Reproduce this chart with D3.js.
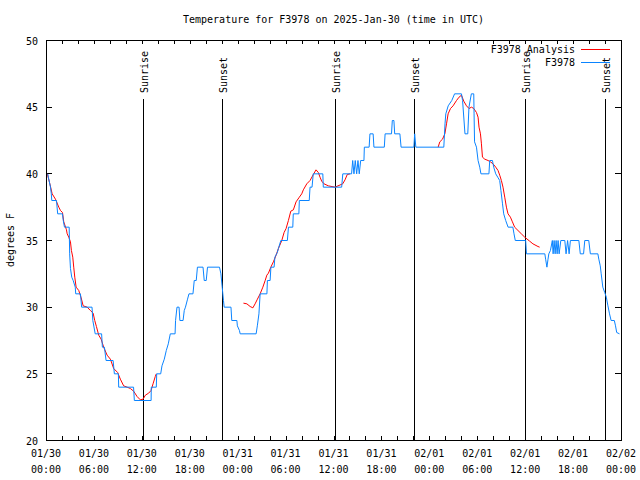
<!DOCTYPE html>
<html><head><meta charset="utf-8">
<script src="https://cdn.jsdelivr.net/npm/d3@7"></script>
<style>
html,body{margin:0;padding:0;background:#fff;}
svg text{font-family:"DejaVu Sans Mono","Liberation Mono",monospace;font-size:10px;fill:#000;}
</style></head>
<body>
<svg id="chart" width="640" height="480"></svg>
<script>
// ---- data (hours since 2025-01-30 00:00 UTC, degrees F) ----
const titleText = "Temperature for F3978 on 2025-Jan-30 (time in UTC)";
const yLabel = "degrees F";
const seriesNames = ["F3978 Analysis", "F3978"];
const xTickHours = [0, 6, 12, 18, 24, 30, 36, 42, 48, 54, 60, 66, 72];
const xTickDates = ["01/30","01/30","01/30","01/30","01/31","01/31","01/31","01/31","02/01","02/01","02/01","02/01","02/02"];
const xTickTimes = ["00:00","06:00","12:00","18:00","00:00","06:00","12:00","18:00","00:00","06:00","12:00","18:00","00:00"];
const yTicks = [20, 25, 30, 35, 40, 45, 50];
const sunriseHours = [12.17, 36.17, 60.04];
const sunsetHours = [22.04, 46.04, 70.04];

const obsHour = [0.16,0.25,0.5,0.6,0.66,1.25,1.4,2.0,2.1,2.25,2.84,2.9,3.0,3.16,3.34,3.6,3.66,4.25,4.4,5.7,5.8,6.1,6.9,7.0,7.25,7.46,8.34,8.5,9.0,9.04,10.9,11.0,13.1,13.12,13.75,13.8,14.3,14.46,14.75,15.0,15.25,15.5,16.1,16.16,16.34,16.6,16.7,17.1,17.25,17.4,17.66,17.84,18.34,18.5,18.75,18.9,19.6,19.75,20.0,20.16,21.66,21.84,22.0,22.16,22.25,23.1,23.2,23.84,23.9,24.16,24.25,26.25,26.4,26.6,26.75,27.6,27.66,28.0,28.1,28.5,28.6,28.9,29.04,29.34,30.16,30.3,30.84,30.9,31.6,31.66,32.9,33.0,33.25,33.4,34.6,34.66,36.96,37.1,38.2,38.34,38.5,38.66,38.84,39.0,39.16,39.34,39.75,39.8,40.4,40.5,40.9,41.0,42.3,42.4,43.2,43.3,43.5,43.6,44.25,44.4,46.0,46.1,46.25,49.75,49.9,50.0,50.3,50.75,51.1,51.96,52.1,52.4,52.75,52.9,53.2,53.5,53.54,53.6,53.84,54.04,54.25,54.4,55.4,55.5,55.84,56.0,56.25,56.5,56.75,56.9,57.1,57.25,57.5,57.8,58.4,58.54,58.7,60.0,60.1,62.4,62.5,62.66,62.8,62.9,63.1,63.34,63.44,63.56,63.69,63.81,63.94,64.06,64.19,64.4,64.9,65.06,65.25,65.44,65.6,66.66,66.84,67.25,67.4,67.9,68.1,69.04,69.16,69.34,69.46,69.66,69.9,70.1,70.3,70.5,70.7,71.1,71.25,71.4,71.75];
const obsTemp = [40,39.7,39,38.5,38,38,37,37,36.5,36,36,34,32.9,32.25,32,31.5,31,31,30,30,29,28,28,27,27,26,26,25,25,24,24,23,23,24,24,25,25,25.6,26.1,26.75,27.25,28,28,29,30,30,29,29,29.75,30,30.6,31,31,32,32,33,33,32,32,33,33,32.5,31.5,30.5,30,30,29,29,28.6,28.25,28,28,28.6,29.5,31,31,32,32,33,33,33.75,34.1,34.4,35,35,36,36,37,37,38,38,39,39,40,40,39,39,40,40,41,40,41,40,41,40,41,41,42,42,43,43,42,42,43,43,44,44,43,43,42,42,43,42,42,43.75,44.5,45.1,45.5,46,46,45.5,43,43,45,46,46,44.5,42.4,42,41,40.5,40,40,41,41,40.5,40,39.75,39.5,38.75,37.75,37,36.5,36,36,35.5,35,35,34,34,33.6,33,33.6,34,34.25,35,34,35,34,35,34,35,34,35,35,34,35,34,35,35,34,34,35,35,34,34,33.6,33.1,32.5,31.5,31.1,30.75,30.1,29.5,29,29,28.6,28.1,28];

const anaHour = [0.1,0.4,0.71,1.12,1.54,1.75,2.0,2.16,2.5,2.59,2.79,3.0,3.12,3.29,3.41,3.54,3.71,4.04,4.34,4.59,5.09,5.5,5.84,6.04,6.25,6.54,6.84,7.16,7.59,8.0,8.41,8.91,9.25,9.66,10.09,10.5,10.91,11.34,11.75,12.09,12.38,12.79,13.09,13.34,13.62,13.75,19.0,24.66,25.09,25.5,25.84,26.12,26.41,26.75,27.09,27.38,27.59,27.79,28.09,28.41,28.75,29.04,29.46,29.75,30.0,30.29,30.59,30.91,31.25,31.66,31.96,32.16,32.59,33.0,33.41,33.75,34.04,34.25,34.46,34.75,35.29,36.12,37.09,37.38,37.66,38.0,43.0,49.04,49.25,49.59,49.88,50.09,50.29,50.59,50.91,51.34,51.66,51.96,52.25,52.59,52.91,53.21,53.5,53.84,54.04,54.16,54.34,54.46,54.59,54.88,55.29,55.59,55.91,56.25,56.54,56.75,56.96,57.16,57.38,57.59,57.79,58.09,58.34,58.62,59.04,59.46,59.88,60.5,60.91,61.54,61.75];
const anaTemp = [40,39.3,38.5,38.1,37.5,37.25,37.1,36.4,35.8,35.5,35.25,34.9,34.25,33.75,33,32.25,31.5,31.25,30.7,30.1,30,29.75,29.55,29,28.55,27.9,27.6,27,26.4,26.1,25.4,25.1,24.6,24.1,24,23.9,23.7,23.3,23.05,23.1,23.4,23.55,23.75,24.25,24.8,25,null,30.3,30.25,30.05,29.95,30.25,30.6,31,31.5,32,32.4,32.55,33,33.4,33.9,34.4,35,35.6,35.9,36.5,37.2,37.3,37.9,38.25,38.5,38.8,39.25,39.5,39.95,40.3,40.1,39.75,39.45,39.25,39.1,39.0,39.25,39.55,39.95,40,null,42,42.4,42.6,43,43.75,44.5,44.9,45.1,45.5,45.75,45.9,45.45,45.1,44.9,45,44.9,44.6,44.25,43.5,43,42.25,41.25,41.1,41,40.9,40.75,40.5,40.25,39.9,39.5,39,38.25,37.5,37,36.75,36.4,36,35.75,35.5,35.25,34.95,34.75,34.55,34.5];

// ---- drawing ----
const svg = d3.select("#chart");
const L = 46, R = 621, T = 40, B = 440;
const x = d3.scaleLinear().domain([0, 72]).range([L, R]);
const y = d3.scaleLinear().domain([20, 50]).range([B, T]);
const red = "#ff0000", blue = "#0a84ff";

svg.append("rect").attr("width", 640).attr("height", 480).attr("fill", "#fff");

// title
svg.append("text").attr("x", (L + R) / 2).attr("y", 23).attr("text-anchor", "middle").text(titleText);
// y label
svg.append("text").attr("transform", "translate(14,240) rotate(-90)").attr("text-anchor", "middle").text(yLabel);

// axes (bottom labels)
const xAxis = d3.axisBottom(x).tickValues(xTickHours).tickSize(0).tickFormat("");
const gx = svg.append("g").attr("transform", `translate(0.5,${B})`).call(xAxis);
gx.select(".domain").remove();
xTickHours.forEach((h, i) => {
  svg.append("text").attr("x", x(h)).attr("y", 457).attr("text-anchor", "middle").text(xTickDates[i]);
  svg.append("text").attr("x", x(h)).attr("y", 473).attr("text-anchor", "middle").text(xTickTimes[i]);
});
// x ticks every 2 hours, bottom and top
const xMinor = d3.range(0, 73, 2);
const tickG = svg.append("g").attr("stroke", "#000").attr("stroke-width", 1).attr("shape-rendering", "crispEdges");
xMinor.forEach(h => {
  const xx = Math.round(x(h)) + 0.5;
  tickG.append("line").attr("x1", xx).attr("x2", xx).attr("y1", B).attr("y2", B - 4);
  tickG.append("line").attr("x1", xx).attr("x2", xx).attr("y1", T).attr("y2", T + 4);
});
// y ticks
const yAxis = d3.axisLeft(y).tickValues(yTicks).tickSize(0).tickPadding(8);
const gy = svg.append("g").attr("transform", `translate(${L},0.5)`).call(yAxis);
gy.select(".domain").remove();
gy.selectAll("text").attr("font-family", null).attr("font-size", null).attr("dy", "0.35em");
yTicks.forEach(v => {
  const yy = Math.round(y(v)) + 0.5;
  tickG.append("line").attr("x1", L).attr("x2", L + 6).attr("y1", yy).attr("y2", yy);
  tickG.append("line").attr("x1", R).attr("x2", R - 6).attr("y1", yy).attr("y2", yy);
});

// sunrise/sunset
const sunG = svg.append("g");
function sunLine(h, label) {
  const xx = Math.round(x(h)) + 0.5;
  sunG.append("line").attr("x1", xx).attr("x2", xx).attr("y1", 99).attr("y2", B)
    .attr("stroke", "#000").attr("stroke-width", 1).attr("shape-rendering", "crispEdges");
  sunG.append("text").attr("transform", `translate(${xx + 4},93) rotate(-90)`)
    .attr("text-anchor", "start").text(label);
}
sunriseHours.forEach(h => sunLine(h, "Sunrise"));
sunsetHours.forEach(h => sunLine(h, "Sunset"));

// lines
const anaData = anaHour.map((h, i) => ({h, v: anaTemp[i]}));
const obsData = obsHour.map((h, i) => ({h, v: obsTemp[i]}));
const line = d3.line().defined(d => d.v !== null).x(d => x(d.h) + 0.5).y(d => y(d.v) + 0.5);
svg.append("path").attr("d", line(anaData)).attr("fill", "none").attr("stroke", red).attr("stroke-width", 1);
svg.append("path").attr("d", line(obsData)).attr("fill", "none").attr("stroke", blue).attr("stroke-width", 1);

// border
svg.append("rect").attr("x", L + 0.5).attr("y", T + 0.5).attr("width", R - L).attr("height", B - T)
  .attr("fill", "none").attr("stroke", "#000").attr("stroke-width", 1).attr("shape-rendering", "crispEdges");

// legend
const legColors = [red, blue];
seriesNames.forEach((n, i) => {
  const ly = 49 + i * 13;
  svg.append("text").attr("x", 575).attr("y", ly + 4).attr("text-anchor", "end").text(n);
  svg.append("line").attr("x1", 581).attr("x2", 610).attr("y1", ly + 0.5).attr("y2", ly + 0.5)
    .attr("stroke", legColors[i]).attr("stroke-width", 1);
});
</script>
</body></html>
